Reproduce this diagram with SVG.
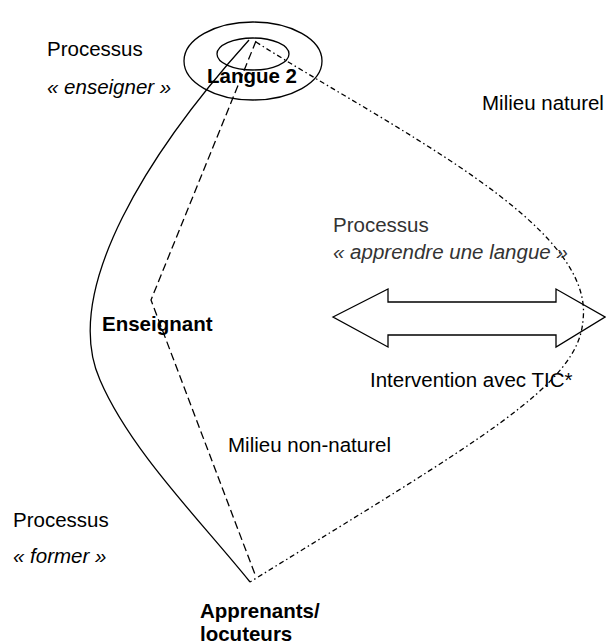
<svg xmlns="http://www.w3.org/2000/svg" width="606" height="644" viewBox="0 0 606 644">
<style>
  .t { font-family: "Liberation Sans", Arial, sans-serif; font-size: 20.5px; fill: #000; }
  .b { font-weight: bold; }
  .i { font-style: italic; }
  .light { fill: #333; }
  .line { fill: none; stroke: #000; stroke-width: 1.3; }
  .dash { stroke-dasharray: 8 4; }
  .dashdot { stroke-dasharray: 5 3 1.5 3; }
</style>
<rect width="606" height="644" fill="#fff"/>
<g id="connectors">
  <path class="line" d="M249,40 C150,150 60,290 100,380 C130,450 200,520 250,582"/>
  <path class="line dash" d="M256,41 L151,300 L256,577"/>
  <path class="line dashdot" d="M256,42 C395,130 595,225 583,320 C579,385 480,440 250,582"/>
</g>
<g id="langue2">
  <ellipse class="line" cx="253" cy="61" rx="69" ry="39"/>
  <ellipse class="line" cx="253" cy="54" rx="36" ry="16"/>
  <text class="t b" x="207" y="83">Langue 2</text>
</g>
<g id="enseignant">
  <text class="t b" x="102" y="331">Enseignant</text>
</g>
<g id="apprenants">
  <text class="t b" x="200" y="618">Apprenants/</text>
  <text class="t b" x="200" y="641">locuteurs</text>
</g>
<g id="double-arrow">
  <path class="line" d="M333,317 L388,289 L388,302 L556,302 L556,289 L605,317 L556,347 L556,335 L388,335 L388,347 Z" fill="#fff" stroke-width="1.5"/>
</g>
<g id="labels">
  <text class="t" x="47" y="56">Processus</text>
  <text class="t i" x="47" y="94">« enseigner »</text>
  <text class="t" x="482" y="110">Milieu naturel</text>
  <text class="t light" x="333" y="232">Processus</text>
  <text class="t i light" x="333" y="259">« apprendre une langue »</text>
  <text class="t" x="370" y="387">Intervention avec TIC*</text>
  <text class="t" x="228" y="452">Milieu non-naturel</text>
  <text class="t" x="13" y="527">Processus</text>
  <text class="t i" x="13" y="563">« former »</text>
</g>
</svg>
